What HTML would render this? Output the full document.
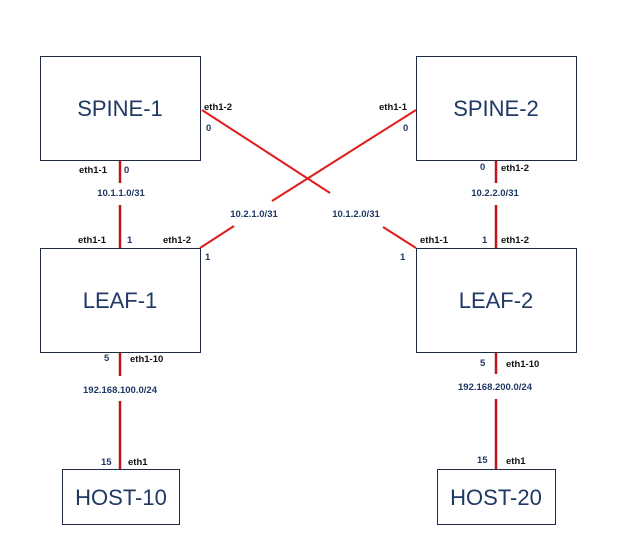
<!DOCTYPE html>
<html><head><meta charset="utf-8"><style>
html,body{margin:0;padding:0;background:#fff}
svg{display:block}
.box{fill:#fff;stroke:#1f2a44;stroke-width:1}
.title{font-family:"Liberation Sans",sans-serif;font-size:22px;fill:#1f3864;text-anchor:middle}
.lbl{font-family:"Liberation Sans",sans-serif;font-size:9.5px;font-weight:bold;fill:#111}
.num{font-family:"Liberation Sans",sans-serif;font-size:9.5px;font-weight:bold;fill:#1f3864}
.net{font-family:"Liberation Sans",sans-serif;font-size:9.5px;font-weight:bold;fill:#1f3864;text-anchor:middle}
.link{stroke:#e01b1b;stroke-width:2}
.vlink{stroke:#c0161c;stroke-width:2.5}
</style></head><body>
<svg width="634" height="559" viewBox="0 0 634 559">
<g>
<line class="vlink" x1="120" y1="160" x2="120" y2="183"/>
<line class="vlink" x1="120" y1="205" x2="120" y2="248"/>
<line class="vlink" x1="496" y1="160" x2="496" y2="183"/>
<line class="vlink" x1="496" y1="205" x2="496" y2="248"/>
<line class="vlink" x1="120" y1="352" x2="120" y2="376"/>
<line class="vlink" x1="120" y1="401" x2="120" y2="469"/>
<line class="vlink" x1="496" y1="352" x2="496" y2="374"/>
<line class="vlink" x1="496" y1="399" x2="496" y2="469"/>
<line class="link" x1="202" y1="110" x2="330" y2="193"/>
<line class="link" x1="383" y1="227" x2="416" y2="248"/>
<line class="link" x1="416" y1="110" x2="272" y2="201"/>
<line class="link" x1="234" y1="226" x2="200" y2="248"/>
</g>
<g><rect class="box" x="40.5" y="56.5" width="160" height="104"/><text class="title" x="120" y="116">SPINE-1</text></g>
<g><rect class="box" x="416.5" y="56.5" width="160" height="104"/><text class="title" x="496" y="116">SPINE-2</text></g>
<g><rect class="box" x="40.5" y="248.5" width="160" height="104"/><text class="title" x="120" y="308">LEAF-1</text></g>
<g><rect class="box" x="416.5" y="248.5" width="160" height="104"/><text class="title" x="496" y="308">LEAF-2</text></g>
<g><rect class="box" x="62.5" y="469.5" width="117" height="55"/><text class="title" x="121" y="505">HOST-10</text></g>
<g><rect class="box" x="437.5" y="469.5" width="118" height="55"/><text class="title" x="496" y="505">HOST-20</text></g>
<g>
<text class="lbl" x="204" y="110">eth1-2</text><text class="num" x="206" y="131">0</text>
<text class="lbl" x="379" y="110">eth1-1</text><text class="num" x="403" y="131">0</text>
<text class="lbl" x="79" y="173">eth1-1</text><text class="num" x="124" y="173">0</text>
<text class="lbl" x="78" y="243">eth1-1</text><text class="num" x="127" y="243">1</text>
<text class="lbl" x="163" y="243">eth1-2</text><text class="num" x="205" y="260">1</text>
<text class="lbl" x="420" y="243">eth1-1</text><text class="num" x="400" y="260">1</text>
<text class="num" x="482" y="243">1</text><text class="lbl" x="501" y="243">eth1-2</text>
<text class="num" x="480" y="170">0</text><text class="lbl" x="501" y="171">eth1-2</text>
<text class="num" x="104" y="361">5</text><text class="lbl" x="130" y="362">eth1-10</text>
<text class="num" x="480" y="366">5</text><text class="lbl" x="506" y="367">eth1-10</text>
<text class="num" x="101" y="465">15</text><text class="lbl" x="128" y="465">eth1</text>
<text class="num" x="477" y="463">15</text><text class="lbl" x="506" y="464">eth1</text>
</g>
<g>
<text class="net" x="121" y="196">10.1.1.0/31</text>
<text class="net" x="254" y="217">10.2.1.0/31</text>
<text class="net" x="356" y="217">10.1.2.0/31</text>
<text class="net" x="495" y="196">10.2.2.0/31</text>
<text class="net" x="120" y="393">192.168.100.0/24</text>
<text class="net" x="495" y="390">192.168.200.0/24</text>
</g>
</svg>
</body></html>
